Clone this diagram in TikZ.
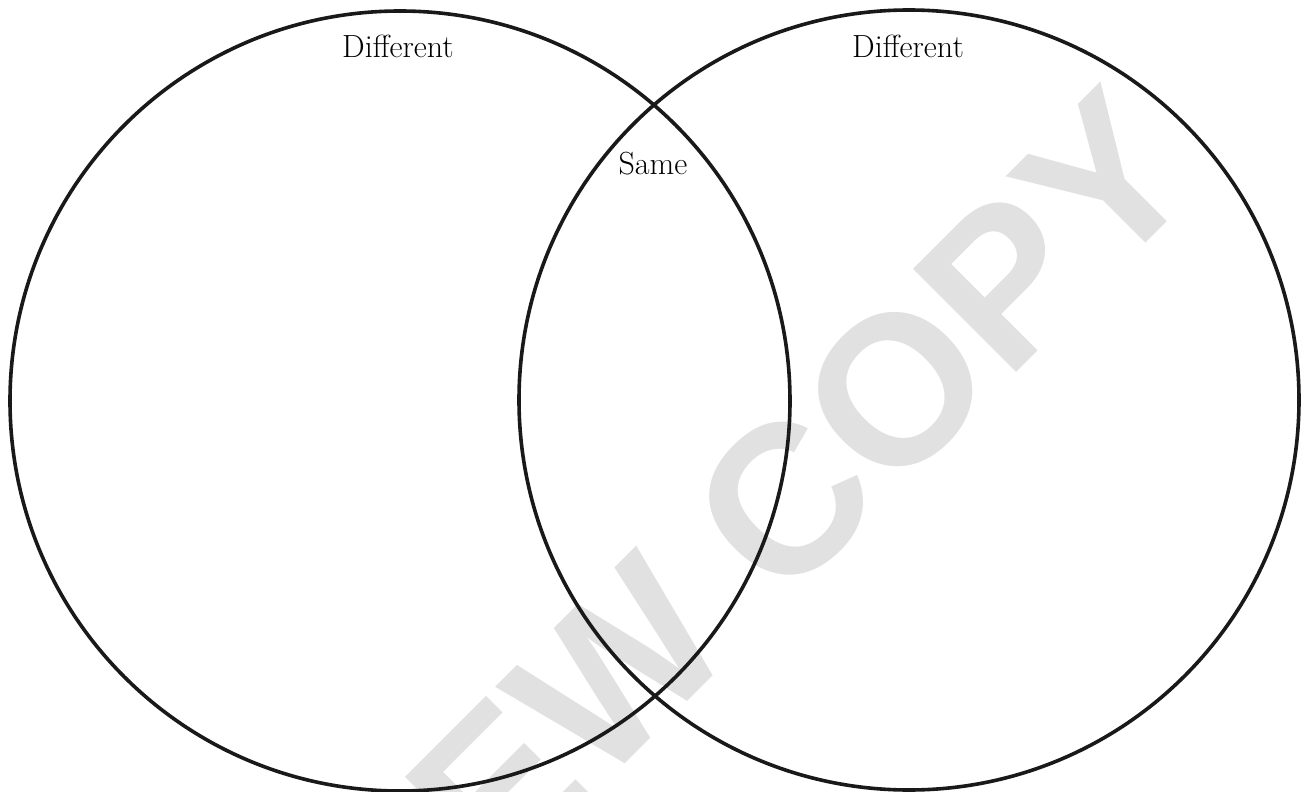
\documentclass[tikz,border=0pt]{standalone}
\usepackage{fontspec}
\newfontfamily\markfont{Liberation Sans}
\usetikzlibrary{positioning}
\definecolor{markgray}{RGB}{225,225,225}

\begin{document}
\begin{tikzpicture}[
        x=1pt, y=-1pt,
        venn/.style={draw=black!90, circle, line width=3.6pt, inner sep=0pt, minimum size=780pt},
        label/.style={font=\fontsize{32}{38}\selectfont, inner sep=0pt},
        watermark/.style={font=\markfont\bfseries\fontsize{212}{212}\selectfont, text=markgray, rotate=45, inner sep=0pt}
    ]
        \useasboundingbox (0,0) rectangle (1307,792);

        % Watermark (behind the circles)
        \begin{scope}
            \clip (0,0) rectangle (1307,792);
            \node[watermark] (mark) at (626,660) {REVIEW COPY};
        \end{scope}

        % Circles
        \node[venn] (left) at (400,401) {};
        \node[venn] (right) at (909,400) {};

        % Labels
        \node[label] (diffleft) at (398,46) {Different};
        \node[label] (diffright) at (908,46) {Different};
        \node[label] (same) at (653,164) {Same};

    \end{tikzpicture}
\end{document}
